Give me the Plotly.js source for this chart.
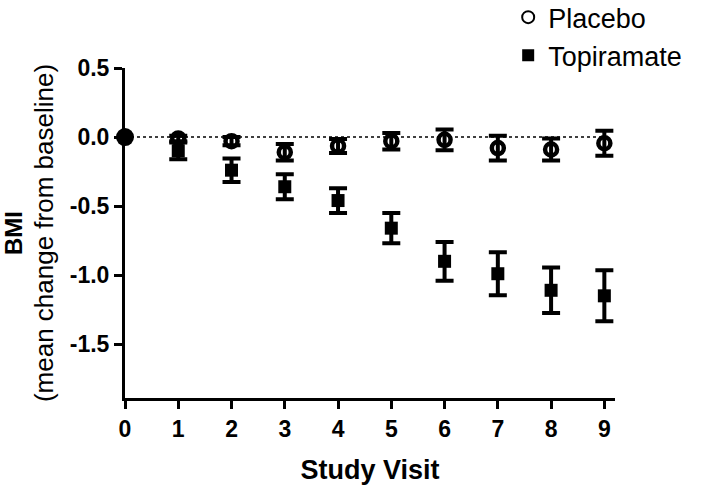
<!DOCTYPE html>
<html>
<head>
<meta charset="utf-8">
<script src="https://cdn.plot.ly/plotly-3.0.1.min.js"></script>
<style>
  body { margin: 0; background: #fff; }
  #chart { width: 714px; height: 492px; }
</style>
</head>
<body>
<div id="chart"></div>
<script>
document.addEventListener("DOMContentLoaded", function() {
    const visits = [0, 1, 2, 3, 4, 5, 6, 7, 8, 9];

    // mean change in BMI and error
    const placeboMean = [0, -0.01, -0.03, -0.11, -0.065, -0.03, -0.02, -0.08, -0.09, -0.045];
    const placeboErr  = [0, 0.02, 0.03, 0.06, 0.05, 0.06, 0.075, 0.09, 0.08, 0.09];
    const topiraMean  = [0, -0.10, -0.24, -0.36, -0.46, -0.66, -0.90, -0.99, -1.11, -1.15];
    const topiraErr   = [0, 0.06, 0.085, 0.09, 0.09, 0.11, 0.14, 0.155, 0.165, 0.185];

    const yTicks = [0.5, 0, -0.5, -1.0, -1.5];
    const yTickText = ['0.5', '0.0', '-0.5', '-1.0', '-1.5'];

    const errStyle = { type: 'data', visible: true, color: '#000', thickness: 4, width: 9 };

    const traces = [
        {
            name: 'Topiramate',
            x: visits.slice(1),
            y: topiraMean.slice(1),
            error_y: Object.assign({ array: topiraErr.slice(1) }, errStyle),
            mode: 'markers',
            type: 'scatter',
            cliponaxis: false,
            marker: { symbol: 'square', size: 13, color: '#000' }
        },
        {
            name: 'Placebo',
            x: visits.slice(1),
            y: placeboMean.slice(1),
            error_y: Object.assign({ array: placeboErr.slice(1) }, errStyle),
            mode: 'markers',
            type: 'scatter',
            cliponaxis: false,
            marker: { symbol: 'circle-open', size: 12, color: '#000', line: { width: 4.5, color: '#000' } }
        },
        {
            // baseline: both groups at zero
            name: 'Baseline',
            x: visits.slice(0, 1),
            y: placeboMean.slice(0, 1),
            mode: 'markers',
            type: 'scatter',
            cliponaxis: false,
            showlegend: false,
            marker: { symbol: 'circle', size: 18, color: '#000' }
        }
    ];

    const layout = {
        width: 714,
        height: 492,
        margin: { l: 125, r: 99, t: 68, b: 94, autoexpand: false },
        paper_bgcolor: '#fff',
        plot_bgcolor: '#fff',
        font: { family: 'Liberation Sans, Arial, sans-serif', color: '#000' },
        showlegend: true,
        legend: {
            traceorder: 'reversed',
            x: 0.782, y: 1.227,
            xanchor: 'left', yanchor: 'top',
            font: { size: 27, color: '#000' },
            itemsizing: 'constant'
        },
        xaxis: {
            range: [0, 9.2],
            tickvals: visits,
            ticks: 'outside',
            ticklen: 8,
            tickwidth: 3,
            tickcolor: '#000',
            showline: true,
            linewidth: 3,
            linecolor: '#000',
            showgrid: false,
            zeroline: false,
            tickfont: { size: 23, weight: 'bold' },
            title: { text: '<b>Study Visit</b>', font: { size: 27 }, standoff: 20 }
        },
        yaxis: {
            range: [-1.89, 0.5],
            tickvals: yTicks,
            ticktext: yTickText,
            ticks: 'outside',
            ticklen: 8,
            tickwidth: 3,
            tickcolor: '#000',
            showline: true,
            linewidth: 3,
            linecolor: '#000',
            showgrid: false,
            zeroline: false,
            tickfont: { size: 23, weight: 'bold' },
            title: { text: '<b>BMI</b><br><span style="font-weight:normal;font-size:26px">(mean change from baseline)</span>', font: { size: 24 }, standoff: 12 }
        },
        shapes: [
            { type: 'line', xref: 'x', yref: 'y', x0: 0, x1: 9.1, y0: 0, y1: 0,
              line: { color: '#000', width: 1.5, dash: 'dot' }, layer: 'below' }
        ]
    };

    Plotly.newPlot('chart', traces, layout, { displayModeBar: false, staticPlot: true });
});
</script>
</body>
</html>
